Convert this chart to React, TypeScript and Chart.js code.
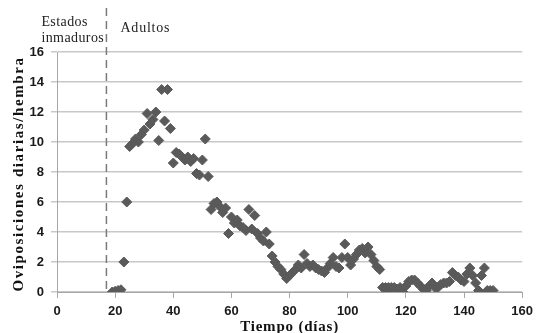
import { useEffect, useRef } from "react";
import { Chart, registerables } from "chart.js";

Chart.register(...registerables);

const days = [
  19, 20, 21, 22, 23, 24, 25, 26, 27, 28, 29, 30, 31, 32, 33, 34, 35, 36, 37, 38,
  39, 40, 41, 42, 43, 44, 45, 46, 47, 48, 49, 50, 51, 52, 53, 54, 55, 56, 57, 58,
  59, 60, 61, 62, 63, 64, 65, 66, 67, 68, 69, 70, 71, 72, 73, 74, 75, 76, 77, 78,
  79, 80, 81, 82, 83, 84, 85, 86, 87, 88, 89, 90, 91, 92, 93, 94, 95, 96, 97, 98,
  99, 100, 101, 102, 103, 104, 105, 106, 107, 108, 109, 110, 111, 112, 113, 114, 115, 116, 117, 118,
  119, 120, 121, 122, 123, 124, 125, 126, 127, 128, 129, 130, 131, 132, 133, 134, 135, 136, 137, 138,
  139, 140, 141, 142, 143, 144, 145, 146, 147, 148, 149, 150,
];

const ovipositions = [
  0.0, 0.05, 0.1, 0.15, 2.0, 6.0, 9.7, 9.9, 10.2, 10.0, 10.5, 10.8, 11.9, 11.2, 11.5, 12.0, 10.1, 13.5, 11.4, 13.5,
  10.9, 8.6, 9.3, 9.2, 9.0, 8.8, 9.0, 8.7, 8.9, 7.9, 7.8, 8.8, 10.2, 7.7, 5.5, 5.9, 6.0, 5.7, 5.3, 5.6,
  3.9, 5.0, 4.6, 4.8, 4.4, 4.3, 4.1, 5.5, 4.2, 5.1, 3.9, 3.6, 3.4, 4.0, 3.2, 2.4, 2.0, 1.7, 1.5, 1.2,
  0.9, 1.1, 1.3, 1.5, 1.8, 1.6, 2.5, 1.9, 1.7, 1.8, 1.6, 1.5, 1.4, 1.3, 1.6, 1.9, 2.3, 1.7, 1.6, 2.3,
  3.2, 2.3, 1.8, 2.2, 2.5, 2.8, 2.9, 2.6, 3.0, 2.5, 2.1, 1.7, 1.5, 0.3, 0.3, 0.3, 0.3, 0.3, 0.2, 0.3,
  0.0, 0.4, 0.7, 0.8, 0.8, 0.6, 0.4, 0.2, 0.1, 0.4, 0.6, 0.3, 0.3, 0.5, 0.6, 0.6, 0.7, 1.3, 1.1, 1.0,
  0.8, 0.7, 1.2, 1.6, 1.1, 0.6, 0.1, 1.1, 1.6, 0.1, 0.1, 0.1,
];

const xTickValues = [0, 20, 40, 60, 80, 100, 120, 140, 160];
const yTickValues = [0, 2, 4, 6, 8, 10, 12, 14, 16];
const stageBoundaryDay = 17;
const immatureLabel = ["Estados", "inmaduros"];
const adultLabel = "Adultos";
const xTitle = "Tiempo (días)";
const yTitle = "Oviposiciones diarias/hembra";

const annotationPlugin = {
  id: "stageAnnotations",
  beforeDatasetsDraw(chart: any) {
    const { ctx, chartArea, scales } = chart;
    const x = scales.x.getPixelForValue(stageBoundaryDay);
    ctx.save();
    ctx.strokeStyle = "#7a7a7a";
    ctx.lineWidth = 1.5;
    ctx.setLineDash([8, 5]);
    ctx.beginPath();
    ctx.moveTo(x, 8);
    ctx.lineTo(x, chartArea.bottom);
    ctx.stroke();
    ctx.restore();
  },
  afterDraw(chart: any) {
    const { ctx, chartArea, scales } = chart;
    const x = scales.x.getPixelForValue(stageBoundaryDay);
    ctx.save();
    ctx.fillStyle = "#222";
    ctx.font = "14px 'Liberation Serif'";
    ctx.textBaseline = "alphabetic";
    ctx.textAlign = "left";
    (ctx as any).letterSpacing = "0.4px";
    ctx.fillText(immatureLabel[0], x - 65, 26);
    ctx.fillText(immatureLabel[1], x - 65, 42);
    (ctx as any).letterSpacing = "0.8px";
    ctx.fillText(adultLabel, x + 14, 32);

    ctx.font = "bold 15px 'Liberation Serif'";
    ctx.fillStyle = "#111";
    (ctx as any).letterSpacing = "0.8px";
    ctx.textAlign = "center";
    ctx.fillText(xTitle, (chartArea.left + chartArea.right) / 2, 331);

    ctx.translate(23, (chartArea.top + chartArea.bottom) / 2 + 2);
    ctx.rotate(-Math.PI / 2);
    (ctx as any).letterSpacing = "1.6px";
    ctx.fillText(yTitle, 0, 0);
    ctx.restore();
  },
};

export default function App() {
  const canvasRef = useRef<HTMLCanvasElement | null>(null);

  useEffect(() => {
    document.body.style.margin = "0";
    const canvas = canvasRef.current;
    if (!canvas) return;
    const points = days.map((d, i) => ({ x: d, y: ovipositions[i] }));
    const chart = new Chart(canvas, {
      type: "scatter",
      data: {
        datasets: [
          {
            data: points,
            pointStyle: "rectRot",
            pointRadius: 5,
            borderWidth: 1,
            backgroundColor: "#5a5a5a",
            borderColor: "#5a5a5a",
            showLine: false,
          },
        ],
      },
      options: {
        responsive: false,
        animation: false,
        devicePixelRatio: 1,
        layout: { padding: { top: 52, right: 15, left: 0, bottom: 0 } },
        plugins: { legend: { display: false }, tooltip: { enabled: false } },
        scales: {
          x: {
            type: "linear",
            min: 0,
            max: 160,
            afterBuildTicks: (s: any) => {
              s.ticks = xTickValues.map((v) => ({ value: v }));
            },
            afterFit: (s: any) => {
              s.height = 41;
            },
            ticks: {
              font: { family: "'Liberation Sans'", size: 13, weight: "bold" },
              color: "#1a1a1a",
              padding: 6,
              maxRotation: 0,
            },
            grid: { drawOnChartArea: false, tickLength: 6, color: "#a6a6a6" },
            border: { color: "#a6a6a6" },
          },
          y: {
            min: 0,
            max: 16,
            afterBuildTicks: (s: any) => {
              s.ticks = yTickValues.map((v) => ({ value: v }));
            },
            afterFit: (s: any) => {
              s.width = 57;
            },
            ticks: {
              font: { family: "'Liberation Sans'", size: 13, weight: "bold" },
              color: "#1a1a1a",
              padding: 7,
            },
            grid: { color: "#c8c8c8", lineWidth: 1.5, tickLength: 6 },
            border: { color: "#a6a6a6" },
          },
        },
      },
      plugins: [annotationPlugin],
    });
    return () => chart.destroy();
  }, []);

  return <canvas ref={canvasRef} width={539} height={333} style={{ display: "block" }} />;
}
